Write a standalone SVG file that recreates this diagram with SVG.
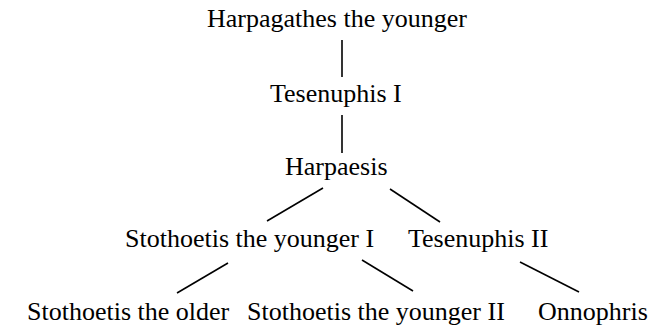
<svg xmlns="http://www.w3.org/2000/svg" width="658" height="328" viewBox="0 0 658 328">
<style>
text{font-family:"Liberation Serif","Times New Roman",serif;font-size:26px;fill:#000}
.c line{stroke:#000;stroke-width:1.6;stroke-linecap:butt}
</style>
<rect width="658" height="328" fill="#fff"/>
<g class="c" id="connectors">
<line x1="342" y1="40" x2="342" y2="77"/>
<line x1="342" y1="115" x2="342" y2="153"/>
<line x1="323" y1="188" x2="267" y2="221"/>
<line x1="390" y1="189" x2="440" y2="222"/>
<line x1="228" y1="263" x2="177" y2="293"/>
<line x1="362" y1="260" x2="413" y2="291"/>
<line x1="520" y1="262" x2="579" y2="292"/>
</g>
<g id="n1"><text x="207" y="27">Harpagathes the younger</text></g>
<g id="n2"><text x="270" y="102">Tesenuphis I</text></g>
<g id="n3"><text x="285" y="175">Harpaesis</text></g>
<g id="n4"><text x="125" y="247">Stothoetis the younger I</text></g>
<g id="n5"><text x="408" y="247">Tesenuphis II</text></g>
<g id="n6"><text x="27" y="320">Stothoetis the older</text></g>
<g id="n7"><text x="247" y="320">Stothoetis the younger II</text></g>
<g id="n8"><text x="538" y="320">Onnophris</text></g>
</svg>
